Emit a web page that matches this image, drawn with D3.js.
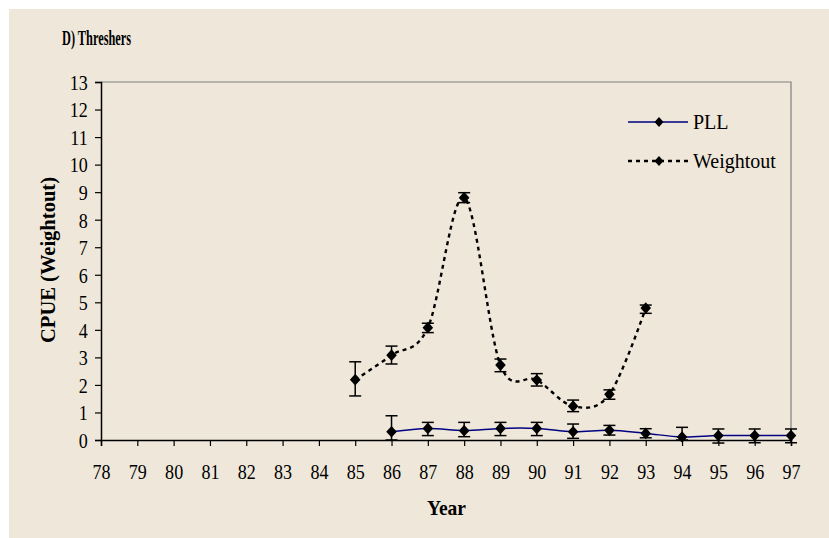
<!DOCTYPE html>
<html>
<head>
<meta charset="utf-8">
<script src="https://cdn.jsdelivr.net/npm/d3@7"></script>
<style>
  html, body { margin: 0; padding: 0; background: #ffffff; }
  svg { display: block; }
</style>
</head>
<body>
<svg id="chart" width="829" height="538"></svg>
<script>
// Years on the x axis (two-digit labels)
const years = [78,79,80,81,82,83,84,85,86,87,88,89,90,91,92,93,94,95,96,97];
const yTicks = [0,1,2,3,4,5,6,7,8,9,10,11,12,13];

// PLL series: CPUE and error bar extents
const pllYears = [86,87,88,89,90,91,92,93,94,95,96,97];
const pllValues = [0.30,0.42,0.34,0.42,0.42,0.30,0.35,0.24,0.11,0.16,0.16,0.16];
const pllLow    = [0.00,0.16,0.12,0.16,0.16,0.06,0.18,0.08,0.00,-0.11,-0.10,-0.10];
const pllHigh   = [0.88,0.64,0.64,0.64,0.64,0.58,0.53,0.41,0.46,0.40,0.40,0.40];

// Weightout series: CPUE and error bar extents
const wtYears = [85,86,87,88,89,90,91,92,93];
const wtValues = [2.19,3.08,4.08,8.80,2.72,2.18,1.23,1.66,4.79];
const wtLow    = [1.60,2.76,3.90,8.62,2.48,1.96,1.03,1.48,4.60];
const wtHigh   = [2.84,3.41,4.24,8.98,2.94,2.41,1.45,1.82,4.90];

const title = "D) Threshers";
const xTitle = "Year";
const yTitle = "CPUE (Weightout)";
const seriesNames = ["PLL", "Weightout"];

const serif = "'Liberation Serif', 'Times New Roman', 'DejaVu Serif', serif";
const svg = d3.select("#chart").attr("font-family", serif);
const bg = "#efe8da";

// Chart background panel
svg.append("rect").attr("x", 9).attr("y", 9).attr("width", 820).attr("height", 529).attr("fill", bg);

const plot = { left: 101, right: 791, top: 82, bottom: 440 };
const x = d3.scaleLinear().domain([78, 97]).range([plot.left, plot.right]);
const y = d3.scaleLinear().domain([0, 13]).range([plot.bottom, plot.top]);

// Plot frame (top and right sides)
svg.append("path")
  .attr("d", `M${plot.left},${plot.top}H${plot.right}V${plot.bottom}`)
  .attr("fill", "none").attr("stroke", "#7f7f7f").attr("stroke-width", 1.2);

// Narrow glyphs: tall serif digits squeezed horizontally
const squeeze = 0.86;

// Y axis
const yAxis = svg.append("g").attr("transform", `translate(${plot.left},0)`)
  .call(d3.axisLeft(y).tickValues(yTicks).tickSize(6).tickFormat(d3.format("d")));
// X axis
const xAxis = svg.append("g").attr("transform", `translate(0,${plot.bottom})`)
  .call(d3.axisBottom(x).tickValues(years).tickSize(6).tickFormat(d3.format("02d")));

[yAxis, xAxis].forEach(g => {
  g.attr("font-family", serif).attr("font-size", 21);
  g.select(".domain").attr("stroke", "#000").attr("stroke-width", 1.5);
  g.selectAll(".tick line").attr("stroke", "#000").attr("stroke-width", 1.2);
  g.selectAll(".tick text").attr("fill", "#000").attr("transform", `scale(${squeeze},1)`);
});
yAxis.selectAll(".tick text").attr("x", -13.3 / squeeze).attr("dy", "0.35em");
xAxis.selectAll(".tick text").attr("y", 39).attr("dy", 0);

// Titles
svg.append("text").attr("x", 62).attr("y", 45).attr("font-size", 21).attr("font-weight", "bold")
  .attr("textLength", 69).attr("lengthAdjust", "spacingAndGlyphs").text(title);
svg.append("text").attr("x", 427).attr("y", 515)
  .attr("font-size", 21).attr("font-weight", "bold")
  .attr("textLength", 39).attr("lengthAdjust", "spacingAndGlyphs").text(xTitle);
svg.append("text").attr("transform", "translate(55,343) rotate(-90)")
  .attr("font-size", 22).attr("font-weight", "bold")
  .attr("textLength", 166).attr("lengthAdjust", "spacingAndGlyphs").text(yTitle);

const line = d3.line().x(d => x(d[0])).y(d => y(d[1])).curve(d3.curveCardinal.tension(0));

function drawSeries(xs, vals, lo, hi, style) {
  const pts = xs.map((d, i) => [d, vals[i]]);
  svg.append("path").datum(pts).attr("d", line).attr("fill", "none")
    .attr("stroke", style.color).attr("stroke-width", style.width)
    .attr("stroke-dasharray", style.dash || null);
  // error bars
  const eb = svg.append("g").attr("stroke", "#000").attr("stroke-width", 1.5);
  xs.forEach((d, i) => {
    const cx = x(d);
    eb.append("line").attr("x1", cx).attr("x2", cx).attr("y1", y(lo[i])).attr("y2", y(hi[i]));
    eb.append("line").attr("x1", cx - 6).attr("x2", cx + 6).attr("y1", y(hi[i])).attr("y2", y(hi[i]));
    eb.append("line").attr("x1", cx - 6).attr("x2", cx + 6).attr("y1", y(lo[i])).attr("y2", y(lo[i]));
  });
  // diamond markers
  svg.append("g").selectAll("path").data(pts).join("path")
    .attr("d", d3.symbol(d3.symbolSquare, 56))
    .attr("transform", d => `translate(${x(d[0])},${y(d[1])}) scale(1,1.1) rotate(45)`)
    .attr("fill", "#000");
}

drawSeries(pllYears, pllValues, pllLow, pllHigh, { color: "#000080", width: 1.5 });
drawSeries(wtYears, wtValues, wtLow, wtHigh, { color: "#000", width: 2.4, dash: "4,4" });

// Legend
const legend = svg.append("g");
const legendItems = [
  { name: seriesNames[0], color: "#000080", width: 1.5, dash: null, y: 122 },
  { name: seriesNames[1], color: "#000", width: 2.4, dash: "4,4", y: 161 }
];
legendItems.forEach(it => {
  legend.append("line").attr("x1", 628).attr("x2", 688).attr("y1", it.y).attr("y2", it.y)
    .attr("stroke", it.color).attr("stroke-width", it.width).attr("stroke-dasharray", it.dash);
  legend.append("path").attr("d", d3.symbol(d3.symbolSquare, 40))
    .attr("transform", `translate(659,${it.y}) scale(1,1.1) rotate(45)`).attr("fill", "#000");
  legend.append("text").attr("x", 693).attr("y", it.y + 7).attr("font-size", 20).text(it.name);
});
</script>
</body>
</html>
